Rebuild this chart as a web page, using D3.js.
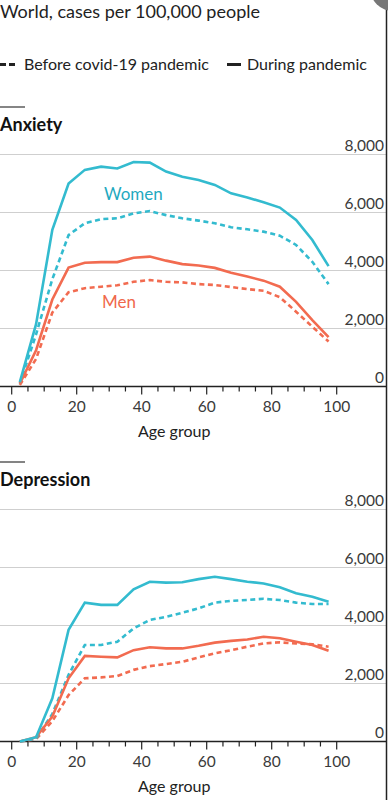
<!DOCTYPE html>
<html>
<head>
<meta charset="utf-8">
<script src="https://cdn.jsdelivr.net/npm/d3@7"></script>
<style>
  body { margin: 0; background: #fff; }
  svg { display: block; font-family: Lato, "Noto Sans", sans-serif; }
</style>
</head>
<body>
<div id="chart"></div>
<script>
// age group midpoints
const ages = [2.5, 7.5, 12.5, 17.5, 22.5, 27.5, 32.5, 37.5, 42.5, 47.5,
              52.5, 57.5, 62.5, 67.5, 72.5, 77.5, 82.5, 87.5, 92.5, 97.5];

// anxiety, cases per 100k
const anxWomenBefore = [100, 1800, 3700, 5220, 5630, 5770, 5800, 5970, 6050, 5910,
                        5800, 5720, 5630, 5490, 5420, 5340, 5200, 4880, 4300, 3530];
const anxWomenDuring = [150, 2150, 5400, 7000, 7470, 7580, 7520, 7740, 7720, 7410,
                        7230, 7120, 6950, 6660, 6520, 6350, 6170, 5740, 5050, 4150];
const anxMenBefore = [50, 950, 2550, 3250, 3390, 3440, 3490, 3610, 3670, 3610,
                      3590, 3530, 3500, 3430, 3360, 3300, 3080, 2580, 2060, 1550];
const anxMenDuring = [100, 1250, 3000, 4100, 4270, 4290, 4290, 4440, 4480, 4340,
                      4220, 4170, 4090, 3920, 3790, 3650, 3440, 2920, 2290, 1700];

// depression, cases per 100k
const depWomenBefore = [0, 100, 950, 2300, 3330, 3330, 3440, 3900, 4190, 4300,
                        4440, 4590, 4790, 4850, 4880, 4920, 4880, 4790, 4740, 4740];
const depWomenDuring = [0, 150, 1490, 3850, 4790, 4710, 4710, 5250, 5510, 5480,
                        5490, 5600, 5680, 5600, 5510, 5450, 5320, 5110, 4990, 4820];
const depMenBefore = [0, 80, 700, 1600, 2180, 2210, 2260, 2470, 2600, 2670,
                      2750, 2900, 3040, 3150, 3270, 3380, 3420, 3380, 3350, 3270];
const depMenDuring = [0, 150, 860, 2180, 2950, 2920, 2900, 3150, 3250, 3210,
                      3210, 3300, 3410, 3470, 3520, 3610, 3560, 3440, 3330, 3130];

const yTicks = [0, 2000, 4000, 6000, 8000];
const xTicks = [0, 20, 40, 60, 80, 100];
const xMinor = d3.range(0, 101, 5);

const width = 388, height = 800;
const cyan = "#33bbcf", red = "#f26b50";

const svg = d3.select("#chart").append("svg")
    .attr("width", width)
    .attr("height", height);

const x = d3.scaleLinear().domain([0, 100]).range([11.7, 336.7]);

// title + legend
svg.append("text")
    .attr("x", 0).attr("y", 18)
    .attr("font-size", 18)
    .attr("fill", "#222")
    .text("World, cases per 100,000 people");

svg.append("line")
    .attr("x1", 0).attr("x2", 18).attr("y1", 64.5).attr("y2", 64.5)
    .attr("stroke", "#222").attr("stroke-width", 3)
    .attr("stroke-dasharray", "6,3");
svg.append("text")
    .attr("x", 24).attr("y", 70)
    .attr("font-size", 16).attr("fill", "#222")
    .text("Before covid-19 pandemic");
svg.append("line")
    .attr("x1", 227).attr("x2", 241).attr("y1", 64.5).attr("y2", 64.5)
    .attr("stroke", "#222").attr("stroke-width", 3);
svg.append("text")
    .attr("x", 247).attr("y", 70)
    .attr("font-size", 16).attr("fill", "#222")
    .text("During pandemic");

function panel(title, top, zeroY, series, labels) {
    const y = d3.scaleLinear().domain([0, 8000]).range([zeroY, zeroY - 232]);
    const g = svg.append("g");

    g.append("line")
        .attr("x1", 0).attr("x2", 25).attr("y1", top).attr("y2", top)
        .attr("stroke", "#333").attr("stroke-width", 1.2);
    g.append("text")
        .attr("x", 0).attr("y", top + 24)
        .attr("font-size", 18).attr("font-weight", "bold")
        .attr("fill", "#111")
        .text(title);

    // gridlines + y labels
    g.selectAll(".grid").data(yTicks.filter(d => d > 0)).join("line")
        .attr("x1", 0).attr("x2", 386)
        .attr("y1", d => y(d)).attr("y2", d => y(d))
        .attr("stroke", "#cfcfcf").attr("stroke-width", 1.2);
    g.selectAll(".ylab").data(yTicks).join("text")
        .attr("x", 384).attr("y", d => y(d) - 4)
        .attr("text-anchor", "end")
        .attr("font-size", 15.5).attr("fill", "#3a3a3a")
        .text(d => d3.format(",")(d));

    // x axis
    const ax = g.append("g").attr("transform", `translate(0,${zeroY})`);
    ax.append("line").attr("x1", 0).attr("x2", 386)
        .attr("stroke", "#222").attr("stroke-width", 1.5);
    ax.selectAll(".minor").data(xMinor).join("line")
        .attr("x1", d => x(d)).attr("x2", d => x(d))
        .attr("y1", 0).attr("y2", d => d % 20 === 0 ? 8 : 5)
        .attr("stroke", "#222").attr("stroke-width", 1.2);
    ax.selectAll(".xlab").data(xTicks).join("text")
        .attr("x", d => x(d)).attr("y", 25)
        .attr("text-anchor", "middle")
        .attr("font-size", 15.5).attr("fill", "#3a3a3a")
        .text(d => d);
    ax.append("text")
        .attr("x", x(50)).attr("y", 50)
        .attr("text-anchor", "middle")
        .attr("font-size", 16).attr("fill", "#222")
        .text("Age group");

    const line = d3.line().x((d, i) => x(ages[i])).y(d => y(d));
    series.forEach(s => {
        g.append("path")
            .attr("d", line(s.values))
            .attr("fill", "none")
            .attr("stroke", s.color)
            .attr("stroke-width", 2.6)
            .attr("stroke-dasharray", s.dashed ? "5,3.5" : null);
    });

    labels.forEach(l => {
        g.append("text")
            .attr("x", l.x).attr("y", l.y)
            .attr("font-size", 17).attr("fill", l.color)
            .text(l.text);
    });
}

panel("Anxiety", 107, 386.5, [
    {values: anxMenBefore, color: red, dashed: true},
    {values: anxWomenBefore, color: cyan, dashed: true},
    {values: anxMenDuring, color: red, dashed: false},
    {values: anxWomenDuring, color: cyan, dashed: false}
], [
    {text: "Women", x: 104, y: 200, color: "#1fa9c0"},
    {text: "Men", x: 102, y: 308, color: "#f0684c"}
]);

panel("Depression", 462, 741.5, [
    {values: depMenBefore, color: red, dashed: true},
    {values: depWomenBefore, color: cyan, dashed: true},
    {values: depMenDuring, color: red, dashed: false},
    {values: depWomenDuring, color: cyan, dashed: false}
], []);

// frame edge on the right + corner mark
svg.append("line")
    .attr("x1", 386.5).attr("x2", 386.5).attr("y1", 0).attr("y2", height)
    .attr("stroke", "#222").attr("stroke-width", 1.5);
svg.append("circle")
    .attr("cx", 393).attr("cy", -12).attr("r", 23)
    .attr("fill", "#777");
</script>
</body>
</html>
